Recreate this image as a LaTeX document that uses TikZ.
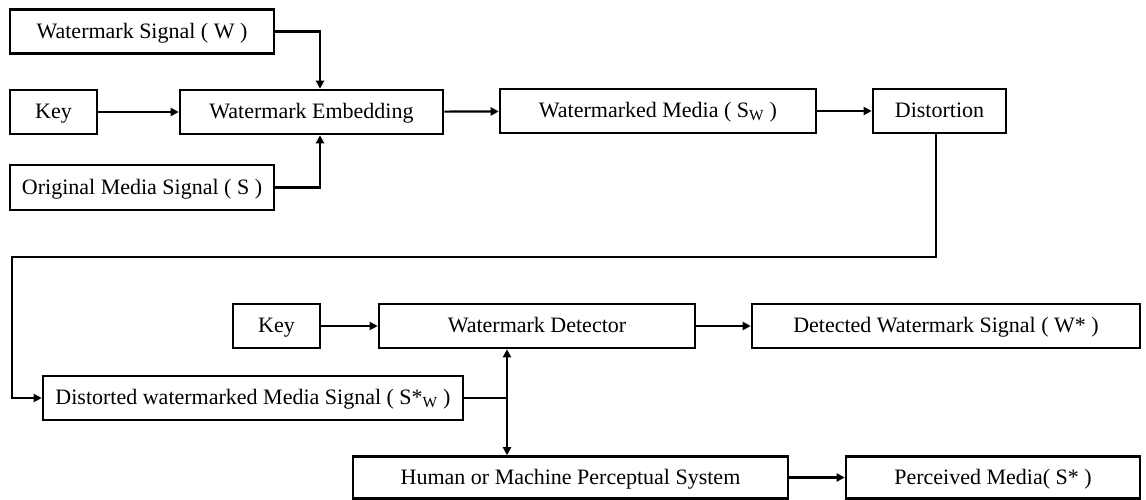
\documentclass[tikz,border=0pt]{standalone}
\usepackage{fontspec}
\setmainfont{Liberation Serif}
\usetikzlibrary{arrows.meta}
\begin{document}
\begin{tikzpicture}[x=1pt,y=-1pt,
  box/.style={draw,line width=2.6pt,inner sep=0pt,text height=13.5pt,text depth=0pt,font=\fontsize{22}{24}\selectfont},
  arr/.style={line width=2.2pt,-{Triangle[length=8pt,width=8pt]}},
  ln/.style={line width=2.2pt}]
\useasboundingbox (0,0) rectangle (1146,500);
\node[box,minimum width=264,minimum height=44] (ws) at (142,31.5) {Watermark Signal ( W )};
\node[box,minimum width=87,minimum height=44] (key1) at (53.5,112) {Key};
\node[box,minimum width=263,minimum height=44] (emb) at (311.5,112) {Watermark Embedding};
\node[box,minimum width=264,minimum height=45] (oms) at (142,187.5) {Original Media Signal ( S )};
\node[box,minimum width=316,minimum height=44] (wm) at (658,111) {Watermarked Media ( S\textsubscript{W} )};
\node[box,minimum width=133,minimum height=44] (dist) at (939.5,111) {Distortion};
\node[box,minimum width=420,minimum height=44] (dws) at (253,398) {Distorted watermarked Media Signal ( S*\textsubscript{W} )};
\node[box,minimum width=87,minimum height=44] (key2) at (276.5,326) {Key};
\node[box,minimum width=316,minimum height=44] (det) at (537,326) {Watermark Detector};
\node[box,minimum width=388,minimum height=44] (dw) at (946,326) {Detected Watermark Signal ( W* )};
\node[box,minimum width=435,minimum height=42] (hm) at (570.5,477.5) {Human or Machine Perceptual System};
\node[box,minimum width=294,minimum height=42] (pm) at (993,477.5) {Perceived Media( S* )};
\coordinate (ex) at (320,112);
\coordinate (c1) at (936,257);
\coordinate (c2) at (12,257);
\coordinate (br) at (507,398);
\draw[arr] (ws.east) -| (ex |- emb.north);
\draw[arr] (oms.east) -| (ex |- emb.south);
\draw[arr] (key1) -- (emb);
\draw[arr] (emb) -- (wm);
\draw[arr] (wm) -- (dist);
\draw[arr] (c1 |- dist.south) -- (c1) -- (c2) |- (dws.west);
\draw[arr] (key2) -- (det);
\draw[arr] (det) -- (dw);
\draw[ln] (dws.east) -- (br);
\draw[arr] (br) -- (br |- det.south);
\draw[arr] (br) -- (br |- hm.north);
\draw[arr] (hm) -- (pm);
\end{tikzpicture}
\end{document}
